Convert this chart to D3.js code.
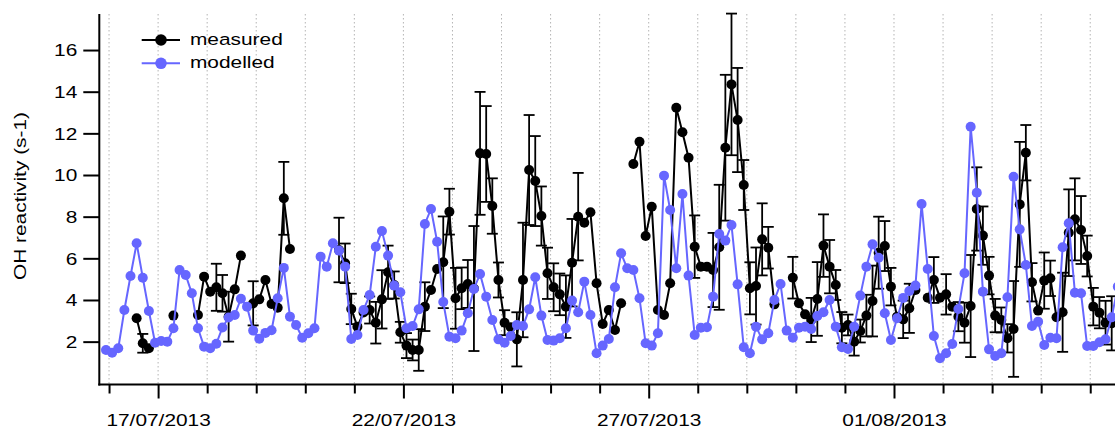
<!DOCTYPE html>
<html>
<head>
<meta charset="utf-8">
<script src="https://cdn.jsdelivr.net/npm/d3@7"></script>
<style>
    body { margin: 0; background: #fff; }
    text { font-family: "Liberation Sans", Arial, sans-serif; font-size: 16.5px; fill: #000; }
</style>
</head>
<body>
<div id="chart"></div>
<script>
// 3-hourly samples starting at this time
var startTime = "2013-07-15 22:30";
var stepHours = 3;

// modelled OH reactivity (s-1)
var modelled = [
    1.60,1.47,1.68,3.52,5.15,6.72,5.07,3.47,1.95,2.03,
    2.00,2.64,5.44,5.20,4.32,2.64,1.76,1.68,1.90,2.68,
    3.16,3.28,4.06,3.68,2.53,2.14,2.42,2.55,4.08,5.54,
    3.20,2.80,2.19,2.40,2.64,6.08,5.60,6.72,6.37,5.60,
    2.13,2.32,3.52,4.24,6.56,7.31,6.13,4.69,4.37,2.64,
    2.75,3.55,7.65,8.37,6.80,3.90,2.24,2.16,2.53,3.36,
    4.53,5.25,4.16,3.04,2.11,1.95,2.27,2.80,2.75,3.55,
    5.09,3.25,2.08,2.05,2.16,2.64,3.97,3.41,4.88,3.28,
    1.44,1.81,2.13,4.61,6.24,5.52,5.44,4.08,1.92,1.81,
    2.40,9.97,8.32,5.52,9.09,5.17,2.32,2.67,2.69,4.16,
    7.17,6.85,7.60,4.75,1.73,1.44,2.72,2.11,2.40,4.00,
    4.77,2.53,2.19,2.67,2.72,2.61,3.23,3.41,4.00,2.72,
    1.73,1.65,2.72,4.21,5.60,6.67,6.03,3.36,2.08,3.12,
    4.10,4.43,4.69,8.61,5.49,2.27,1.20,1.44,1.89,3.57,
    5.28,12.32,9.15,4.40,1.63,1.31,1.44,4.13,9.92,7.39,
    5.68,2.75,2.96,1.84,2.19,2.16,6.53,7.68,4.35,4.32,
    1.79,1.79,1.97,2.11,3.17,4.64
];

// measured OH reactivity (s-1), null = no data
var measured = [
    null,null,null,null,null,3.12,1.92,1.68,null,null,
    null,3.25,null,null,null,3.28,5.12,4.40,4.61,4.32,
    3.20,4.51,6.13,null,3.84,4.03,4.96,3.81,3.63,8.88,
    6.45,null,null,null,null,null,null,null,6.40,5.76,
    3.57,2.72,3.40,3.52,2.91,4.03,5.33,4.72,2.45,1.81,
    1.60,1.60,3.68,4.48,5.49,5.81,8.24,4.08,4.56,4.77,
    4.55,11.04,11.01,8.51,4.96,2.91,2.69,2.11,4.96,10.24,
    9.71,8.03,5.28,4.61,4.27,3.68,5.79,8.00,7.71,8.21,
    4.80,2.85,3.52,2.56,3.84,null,10.53,11.60,7.07,8.48,
    3.52,3.28,4.80,13.23,12.05,10.83,6.56,5.60,5.60,5.44,
    6.53,11.31,14.35,12.64,9.52,4.56,4.67,6.91,6.51,3.79,
    null,null,5.07,3.84,3.31,3.04,4.05,6.61,5.60,4.72,
    2.67,2.80,2.00,2.51,3.25,3.95,6.27,6.59,4.64,3.20,
    3.07,3.60,4.48,null,4.11,4.96,4.11,4.27,3.68,3.20,
    2.91,3.71,8.37,7.09,5.17,3.25,3.04,2.16,2.61,8.59,
    11.07,4.85,3.49,4.93,5.04,3.17,3.41,7.23,7.87,7.36,
    6.11,3.68,3.39,2.91,2.88,null
];

// half-width of the measured error bars, null = no bar
var measuredErr = [
    null,null,null,null,null,null,0.45,null,null,null,
    null,null,null,null,null,null,null,null,1.13,0.88,
    1.20,null,null,null,1.06,null,null,null,null,1.75,
    null,null,null,null,null,null,null,null,1.55,0.95,
    0.73,null,null,0.65,1.00,1.40,1.28,0.65,0.50,0.60,
    0.50,1.00,1.17,null,null,2.20,1.10,1.46,1.00,1.15,
    3.00,2.95,2.30,1.33,0.84,0.60,null,1.30,2.75,2.64,
    2.16,1.42,1.23,1.15,1.00,1.50,2.10,2.10,null,null,
    null,null,null,null,null,null,null,null,null,null,
    null,null,null,null,null,null,1.50,null,null,1.78,
    3.00,3.50,3.40,2.50,1.20,1.25,1.85,1.73,1.00,null,
    null,null,1.00,null,null,1.06,1.77,1.50,1.28,0.72,
    0.75,0.50,0.67,0.55,1.00,1.70,1.73,1.20,0.90,null,
    0.90,1.18,null,null,null,1.10,null,0.97,null,0.70,
    0.96,2.45,2.00,1.40,0.90,0.80,0.60,0.68,2.30,3.00,
    1.33,0.92,null,1.35,0.85,null,1.90,2.08,1.97,1.63,
    0.98,0.90,0.75,1.05,1.30,null
];

// axis ticks
var yTicks = [2, 4, 6, 8, 10, 12, 14, 16];
var labelledDays = ["2013-07-17", "2013-07-22", "2013-07-27", "2013-08-01"];
var seriesNames = ["measured", "modelled"];

var parseTime = d3.timeParse("%Y-%m-%d %H:%M");
var parseDay = d3.timeParse("%Y-%m-%d");
var fmtDay = d3.timeFormat("%d/%m/%Y");

var measColor = "#000";
var modColor = "#6666ff";
var wide = " scale(1.265,1)"; // the original font is drawn wider
var dotR = 5;
var lineW = 2;

var t0 = parseTime(startTime);
var times = modelled.map(function(d, i) { return d3.timeHour.offset(t0, stepHours * i); });
var modData = modelled.map(function(v, i) { return { t: times[i], v: v }; });
var measData = measured.map(function(v, i) { return { t: times[i], v: v, e: measuredErr[i] }; });

var svg = d3.select("#chart").append("svg")
    .attr("width", 1115)
    .attr("height", 430);

var x = d3.scaleTime()
    .domain([parseTime("2013-07-15 19:14"), parseTime("2013-08-05 12:07")])
    .range([99.3, 1115]);
var y = d3.scaleLinear().domain([0, 17.73]).range([383.3, 14]);
var axisY = 384.5;

// daily dotted grid lines
var days = d3.timeDay.range(parseDay("2013-07-16"), parseDay("2013-08-06"));
svg.append("g").selectAll("line")
    .data(days)
    .enter().append("line")
    .attr("x1", function(d) { return x(d); })
    .attr("x2", function(d) { return x(d); })
    .attr("y1", 14)
    .attr("y2", axisY)
    .attr("stroke", "#b4b4b4")
    .attr("stroke-width", 1)
    .attr("stroke-dasharray", "1.5,2.5");

// X axis
var isMajor = function(d) { return labelledDays.indexOf(d3.timeFormat("%Y-%m-%d")(d)) >= 0; };
var gx = svg.append("g")
    .attr("transform", "translate(0," + axisY + ")")
    .call(d3.axisBottom(x).tickValues(days).tickSizeOuter(0)
        .tickFormat(function(d) { return isMajor(d) ? fmtDay(d) : ""; }));
gx.select(".domain").remove();
gx.selectAll(".tick line")
    .attr("stroke-width", 2)
    .attr("y2", function(d) { return isMajor(d) ? 14 : 9; });
gx.selectAll(".tick text")
    .attr("y", 0).attr("dy", 0)
    .attr("font-size", null).attr("font-family", null)
    .attr("transform", "translate(0,41)" + wide);

// Y axis
var gy = svg.append("g")
    .attr("transform", "translate(99.3,0)")
    .call(d3.axisLeft(y).tickValues(yTicks).tickSize(16).tickSizeOuter(0));
gy.select(".domain").remove();
gy.selectAll(".tick line").attr("stroke-width", 2);
gy.selectAll(".tick text")
    .attr("x", 0).attr("dy", "0.36em")
    .attr("font-size", null).attr("font-family", null)
    .attr("transform", "translate(-22,0)" + wide);

// axis lines
svg.append("line").attr("x1", 98.3).attr("x2", 1115).attr("y1", axisY).attr("y2", axisY)
    .attr("stroke", "#000").attr("stroke-width", 2);
svg.append("line").attr("x1", 99.3).attr("x2", 99.3).attr("y1", 14).attr("y2", axisY + 1)
    .attr("stroke", "#000").attr("stroke-width", 2);

svg.append("text")
    .attr("text-anchor", "middle")
    .attr("transform", "translate(26,196) rotate(-90)" + wide)
    .text("OH reactivity (s-1)");

var valueline = d3.line()
    .defined(function(d) { return d.v != null; })
    .x(function(d) { return x(d.t); })
    .y(function(d) { return y(d.v); });

// measured: error bars, line, points
var bars = svg.append("g").attr("stroke", measColor).attr("stroke-width", 1.8);
measData.filter(function(d) { return d.v != null && d.e != null; }).forEach(function(d) {
    var cx = x(d.t);
    bars.append("line").attr("x1", cx).attr("x2", cx).attr("y1", y(d.v - d.e)).attr("y2", y(d.v + d.e));
    bars.append("line").attr("x1", cx - 5.5).attr("x2", cx + 5.5).attr("y1", y(d.v - d.e)).attr("y2", y(d.v - d.e));
    bars.append("line").attr("x1", cx - 5.5).attr("x2", cx + 5.5).attr("y1", y(d.v + d.e)).attr("y2", y(d.v + d.e));
});

svg.append("path")
    .datum(measData)
    .attr("fill", "none")
    .attr("stroke", measColor)
    .attr("stroke-width", lineW)
    .attr("d", valueline);

svg.append("g").selectAll("circle")
    .data(measData.filter(function(d) { return d.v != null; }))
    .enter().append("circle")
    .attr("cx", function(d) { return x(d.t); })
    .attr("cy", function(d) { return y(d.v); })
    .attr("r", dotR)
    .attr("fill", measColor);

// modelled: line, points
svg.append("path")
    .datum(modData)
    .attr("fill", "none")
    .attr("stroke", modColor)
    .attr("stroke-width", lineW)
    .attr("d", valueline);

svg.append("g").selectAll("circle")
    .data(modData)
    .enter().append("circle")
    .attr("cx", function(d) { return x(d.t); })
    .attr("cy", function(d) { return y(d.v); })
    .attr("r", dotR)
    .attr("fill", modColor);

// LEGEND
var legend = svg.append("g").selectAll("g")
    .data(seriesNames)
    .enter().append("g")
    .attr("transform", function(d, i) { return "translate(0," + (40 + i * 23.3) + ")"; });
legend.append("line")
    .attr("x1", 141.7).attr("x2", 180).attr("y1", 0).attr("y2", 0)
    .attr("stroke", function(d, i) { return i ? modColor : measColor; })
    .attr("stroke-width", lineW);
legend.append("circle")
    .attr("cx", 161).attr("cy", 0).attr("r", 5.8)
    .attr("fill", function(d, i) { return i ? modColor : measColor; });
legend.append("text")
    .attr("transform", "translate(190,4.5)" + wide)
    .text(function(d) { return d; });
</script>
</body>
</html>
